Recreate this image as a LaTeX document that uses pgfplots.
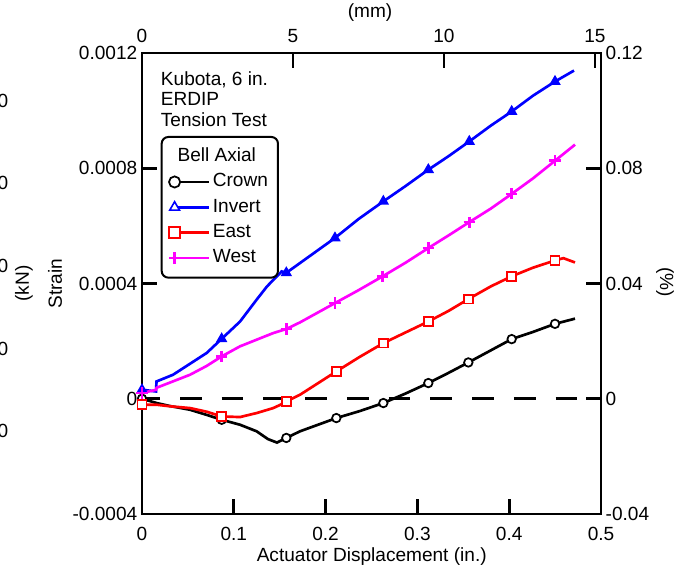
\documentclass[border=0pt]{standalone}
\usepackage{fontspec}
\setmainfont{Liberation Sans}
\usepackage{pgfplots}
\pgfplotsset{compat=1.18}
\definecolor{pblue}{RGB}{0,0,255}
\definecolor{pred}{RGB}{255,0,0}
\definecolor{pmag}{RGB}{255,0,255}
\begin{document}
\begin{tikzpicture}[font=\fontsize{14.3}{17}\selectfont]
\useasboundingbox (-106.5pt,-41.25pt) rectangle (406.5pt,385.5pt);
\begin{axis}[
  at={(0,0)}, anchor=south west,
  scale only axis, width=344.25pt, height=345.75pt,
  xmin=0, xmax=0.5, ymin=-0.0004, ymax=0.0012,
  axis line style={line width=2pt},
  every tick/.style={line width=2pt, black},
  major tick length=11pt,
  tick align=inside,
  scaled x ticks=false, scaled y ticks=false,
  xtick={0,0.1,0.2,0.3,0.4,0.5},
  xticklabels={0,0.1,0.2,0.3,0.4,0.5},
  ytick={-0.0004,0,0.0004,0.0008,0.0012},
  yticklabels={-0.0004,0,0.0004,0.0008,0.0012},
  xtick pos=bottom, ytick pos=left,
  xticklabel style={yshift=-6.5pt},
  mark indices={1,6,11,13,15,17,19,21,23},
  legend style={at={(0.0407,0.82)}, anchor=north west, draw=black, line width=1.5pt,
    rounded corners=5pt, inner xsep=5.5pt, inner ysep=6pt, row sep=1.5pt,
    nodes={text height=10.5pt, text depth=3pt, inner sep=2pt},
    /tikz/every even column/.append style={column sep=6pt}},
  legend cell align=left,
  legend image code/.code={\draw[mark repeat=2,mark phase=2,#1,mark size=4.2pt,every mark/.append style={fill=white}] plot coordinates {(0pt,0pt)(12.85pt,0pt)(25.7pt,0pt)};},
  legend entries={\hspace*{-26.5pt}Bell Axial,Crown,Invert,East,West},
]
\addlegendimage{empty legend}
\addplot[black, line width=2pt, dash pattern=on 16.3pt off 15pt, dash phase=2.8pt, forget plot] coordinates {(0,0) (0.5,0)};
% Crown
\addplot[black, line width=2pt, mark=*, mark size=3.2pt, mark options={solid, fill=white, line width=1.3pt}] coordinates {
(0,0) (0.016,-0.0000149) (0.030,-0.000025) (0.0523,-0.0000382) (0.0705,-0.000056)
(0.0868,-0.0000729) (0.1068,-0.0000902) (0.1249,-0.000113) (0.1372,-0.000140) (0.1470,-0.000152)
(0.1572,-0.000136) (0.1721,-0.000113) (0.2117,-0.000067) (0.237,-0.000043) (0.2629,-0.0000149)
(0.287,0.000018) (0.3119,0.0000545) (0.334,0.000090) (0.3555,0.000126) (0.380,0.000168)
(0.4027,0.000207) (0.426,0.000232) (0.4499,0.000260) (0.4717,0.000278)};
% Invert
\addplot[pblue, line width=2pt, mark=triangle*, mark size=3.8pt, mark options={solid, fill=pblue, line width=1.2pt}] coordinates {
(0,0.0000312) (0.0153,0.0000253) (0.0158,0.000060) (0.0338,0.0000833) (0.0705,0.000159)
(0.0868,0.000208) (0.1068,0.000268) (0.1249,0.000344) (0.1362,0.000390) (0.1522,0.000442)
(0.1572,0.000437) (0.1721,0.000471) (0.2102,0.000558) (0.236,0.000624) (0.2629,0.000685)
(0.287,0.000738) (0.3119,0.000795) (0.334,0.000842) (0.3565,0.000893) (0.380,0.000948)
(0.4027,0.000997) (0.426,0.001052) (0.4499,0.001101) (0.4706,0.001139)};
% East
\addplot[pred, line width=2pt, mark=square*, mark size=3.3pt, mark options={solid, fill=white, line width=1.3pt}] coordinates {
(0,-0.0000208) (0.016,-0.0000208) (0.030,-0.000026) (0.0523,-0.0000323) (0.0705,-0.000045)
(0.0868,-0.0000614) (0.1068,-0.0000635) (0.1249,-0.0000496) (0.1430,-0.0000323) (0.150,-0.000022)
(0.1572,-0.0000094) (0.1721,0.0000139) (0.2117,0.0000948) (0.237,0.000145) (0.2629,0.000193)
(0.287,0.000230) (0.3119,0.000268) (0.334,0.000305) (0.3555,0.000346) (0.380,0.000390)
(0.4027,0.000425) (0.426,0.000455) (0.4499,0.000480) (0.459,0.000488) (0.4717,0.000473)};
% West
\addplot[pmag, line width=2pt, mark=+, mark size=4.2pt, mark options={solid, line width=1.9pt}] coordinates {
(0,0.000020) (0.0153,0.000031) (0.0158,0.000038) (0.0523,0.0000833) (0.0705,0.000114)
(0.0868,0.000147) (0.1068,0.000182) (0.1249,0.000205) (0.1430,0.000228) (0.150,0.000235)
(0.1572,0.000242) (0.1721,0.000265) (0.2102,0.000332) (0.236,0.000377) (0.2622,0.000425)
(0.287,0.000472) (0.3119,0.000523) (0.334,0.000567) (0.3565,0.000613) (0.380,0.000660)
(0.4027,0.000711) (0.426,0.000765) (0.4499,0.000826) (0.4717,0.000882)};
\end{axis}
\begin{axis}[
  at={(0,0)}, anchor=south west,
  scale only axis, width=344.25pt, height=345.75pt,
  xmin=0, xmax=15.2, ymin=-0.04, ymax=0.12,
  axis x line*=top, axis y line*=right,
  axis line style={line width=2pt},
  every tick/.style={line width=2pt, black},
  major tick length=11pt,
  tick align=inside,
  scaled x ticks=false, scaled y ticks=false,
  xtick={0,5,10,15}, xticklabels={0,5,10,15},
  ytick={-0.04,0,0.04,0.08,0.12}, yticklabels={-0.04,0,0.04,0.08,0.12},
  xticklabel style={yshift=4.5pt},
]
\end{axis}
\node[anchor=base] at (172.3pt,-35.25pt) {Actuator Displacement (in.)};
\node[rotate=90] at (-65.25pt,172.9pt) {Strain};
\node[rotate=90] at (-88.5pt,172.9pt) {(kN)};
\node[rotate=-90] at (392.25pt,174pt) {(\%)};
\node at (171pt,375.75pt) {(mm)};
\foreach \yy in {309.8,248.0,186.0,124.1,62.1} {\node[anchor=east, inner sep=0pt] at (-100.1pt,\yy pt) {0};}
\node[anchor=base west, inner sep=0pt] at (14pt,321.75pt) {Kubota, 6 in.};
\node[anchor=base west, inner sep=0pt] at (14pt,306.75pt) {ERDIP};
\node[anchor=base west, inner sep=0pt] at (14pt,291pt) {Tension Test};
\end{tikzpicture}
\end{document}
